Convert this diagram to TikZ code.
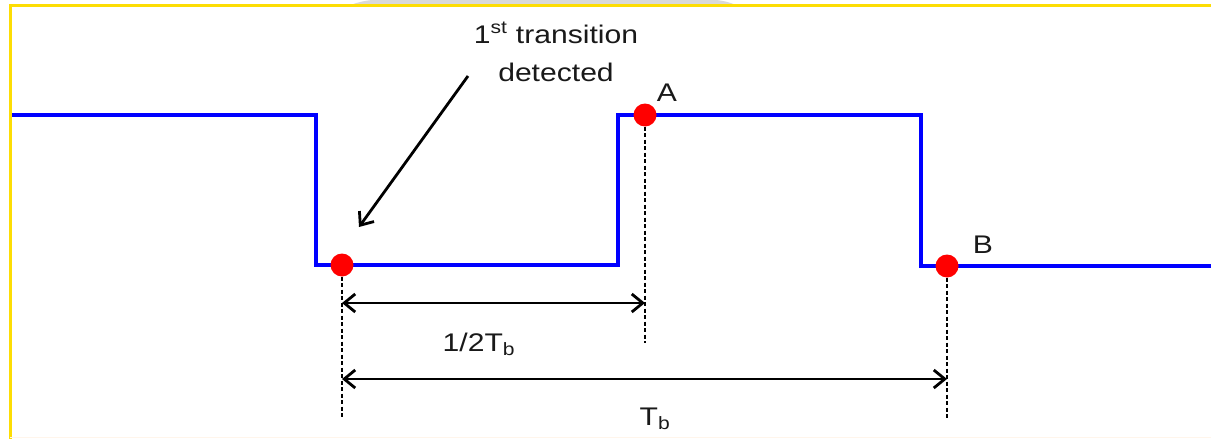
\documentclass[tikz,border=0pt]{standalone}
\usepackage{graphicx}
\usepackage{fontspec}
\setmainfont{Liberation Sans}
\usepackage{tikz}
\usetikzlibrary{arrows.meta}

\newcommand{\widetext}[1]{\scalebox{1.18}[1]{#1}}

\tikzset{
  wave/.style={blue, line width=3.4pt, line join=miter},
  dot/.style={circle, fill=red, inner sep=0pt, minimum size=23pt},
  guide/.style={black, line width=2.8pt, dash pattern=on 4pt off 2.5pt},
  dimline/.style={black, line width=2.8pt,
    {Straight Barb[length=11pt,width=18pt]}-{Straight Barb[length=11pt,width=18pt]}},
  pointer/.style={black, line width=2.8pt, -{Straight Barb[length=11pt,width=18pt]}},
  lbl/.style={font=\fontsize{25.5}{30}\selectfont, text=black!90, inner sep=0pt, anchor=base},
}

\begin{document}
\begin{tikzpicture}[x=1pt, y=-1pt]
    \useasboundingbox (0,0) rectangle (1211,439);
    \clip (0,0) rectangle (1211,439);

    % frame of the slide
    \fill[gray!30] (348,6) .. controls (360,1) and (372,-1) .. (392,-1) -- (698,-1)
        .. controls (716,-1) and (728,1) .. (738,6) -- cycle;
    \draw[yellow!80!orange, line width=2.2pt] (10.5,439) -- (10.5,5.5) -- (1211,5.5);
    \draw[orange!8, line width=1.5pt] (10,437.5) -- (1211,437.5);

    % signal
    \draw[wave] (12,115) -- (316,115) -- (316,265) -- (618,265) -- (618,115)
        -- (921,115) -- (921,266) -- (1211,266);

    % sample points
    \node[dot] (p1) at (342,265) {};
    \node[dot] (pA) at (645,115) {};
    \node[dot] (pB) at (947,266) {};

    \coordinate (g1) at (342,418);
    \coordinate (gA) at (645,343);
    \coordinate (gB) at (947,418);
    \draw[guide] (p1.south) -- (g1);
    \draw[guide] (pA.south) -- (gA);
    \draw[guide] (pB.south) -- (gB);

    % time spans
    \coordinate (h1) at (342,303);
    \coordinate (h2) at (645,303);
    \coordinate (t1) at (342,379);
    \coordinate (t2) at (947,379);
    \draw[dimline] (h1) -- (h2);
    \draw[dimline] (t1) -- (t2);

    % labels
    \node[lbl] (first) at (556,43) {\widetext{1\textsuperscript{st} transition}};
    \node[lbl] (detect) at (556,81) {\widetext{detected}};
    \node[lbl] (labA) at (667,101) {\widetext{A}};
    \node[lbl] (labB) at (983,253) {\widetext{B}};
    \node[lbl] (half) at (479,351) {\widetext{1/2T\textsubscript{b}}};
    \node[lbl] (full) at (655,425) {\widetext{T\textsubscript{b}}};

    \coordinate (q1) at (468,76);
    \coordinate (q2) at (359,227);
    \draw[pointer] (q1) -- (q2);
\end{tikzpicture}
\end{document}
